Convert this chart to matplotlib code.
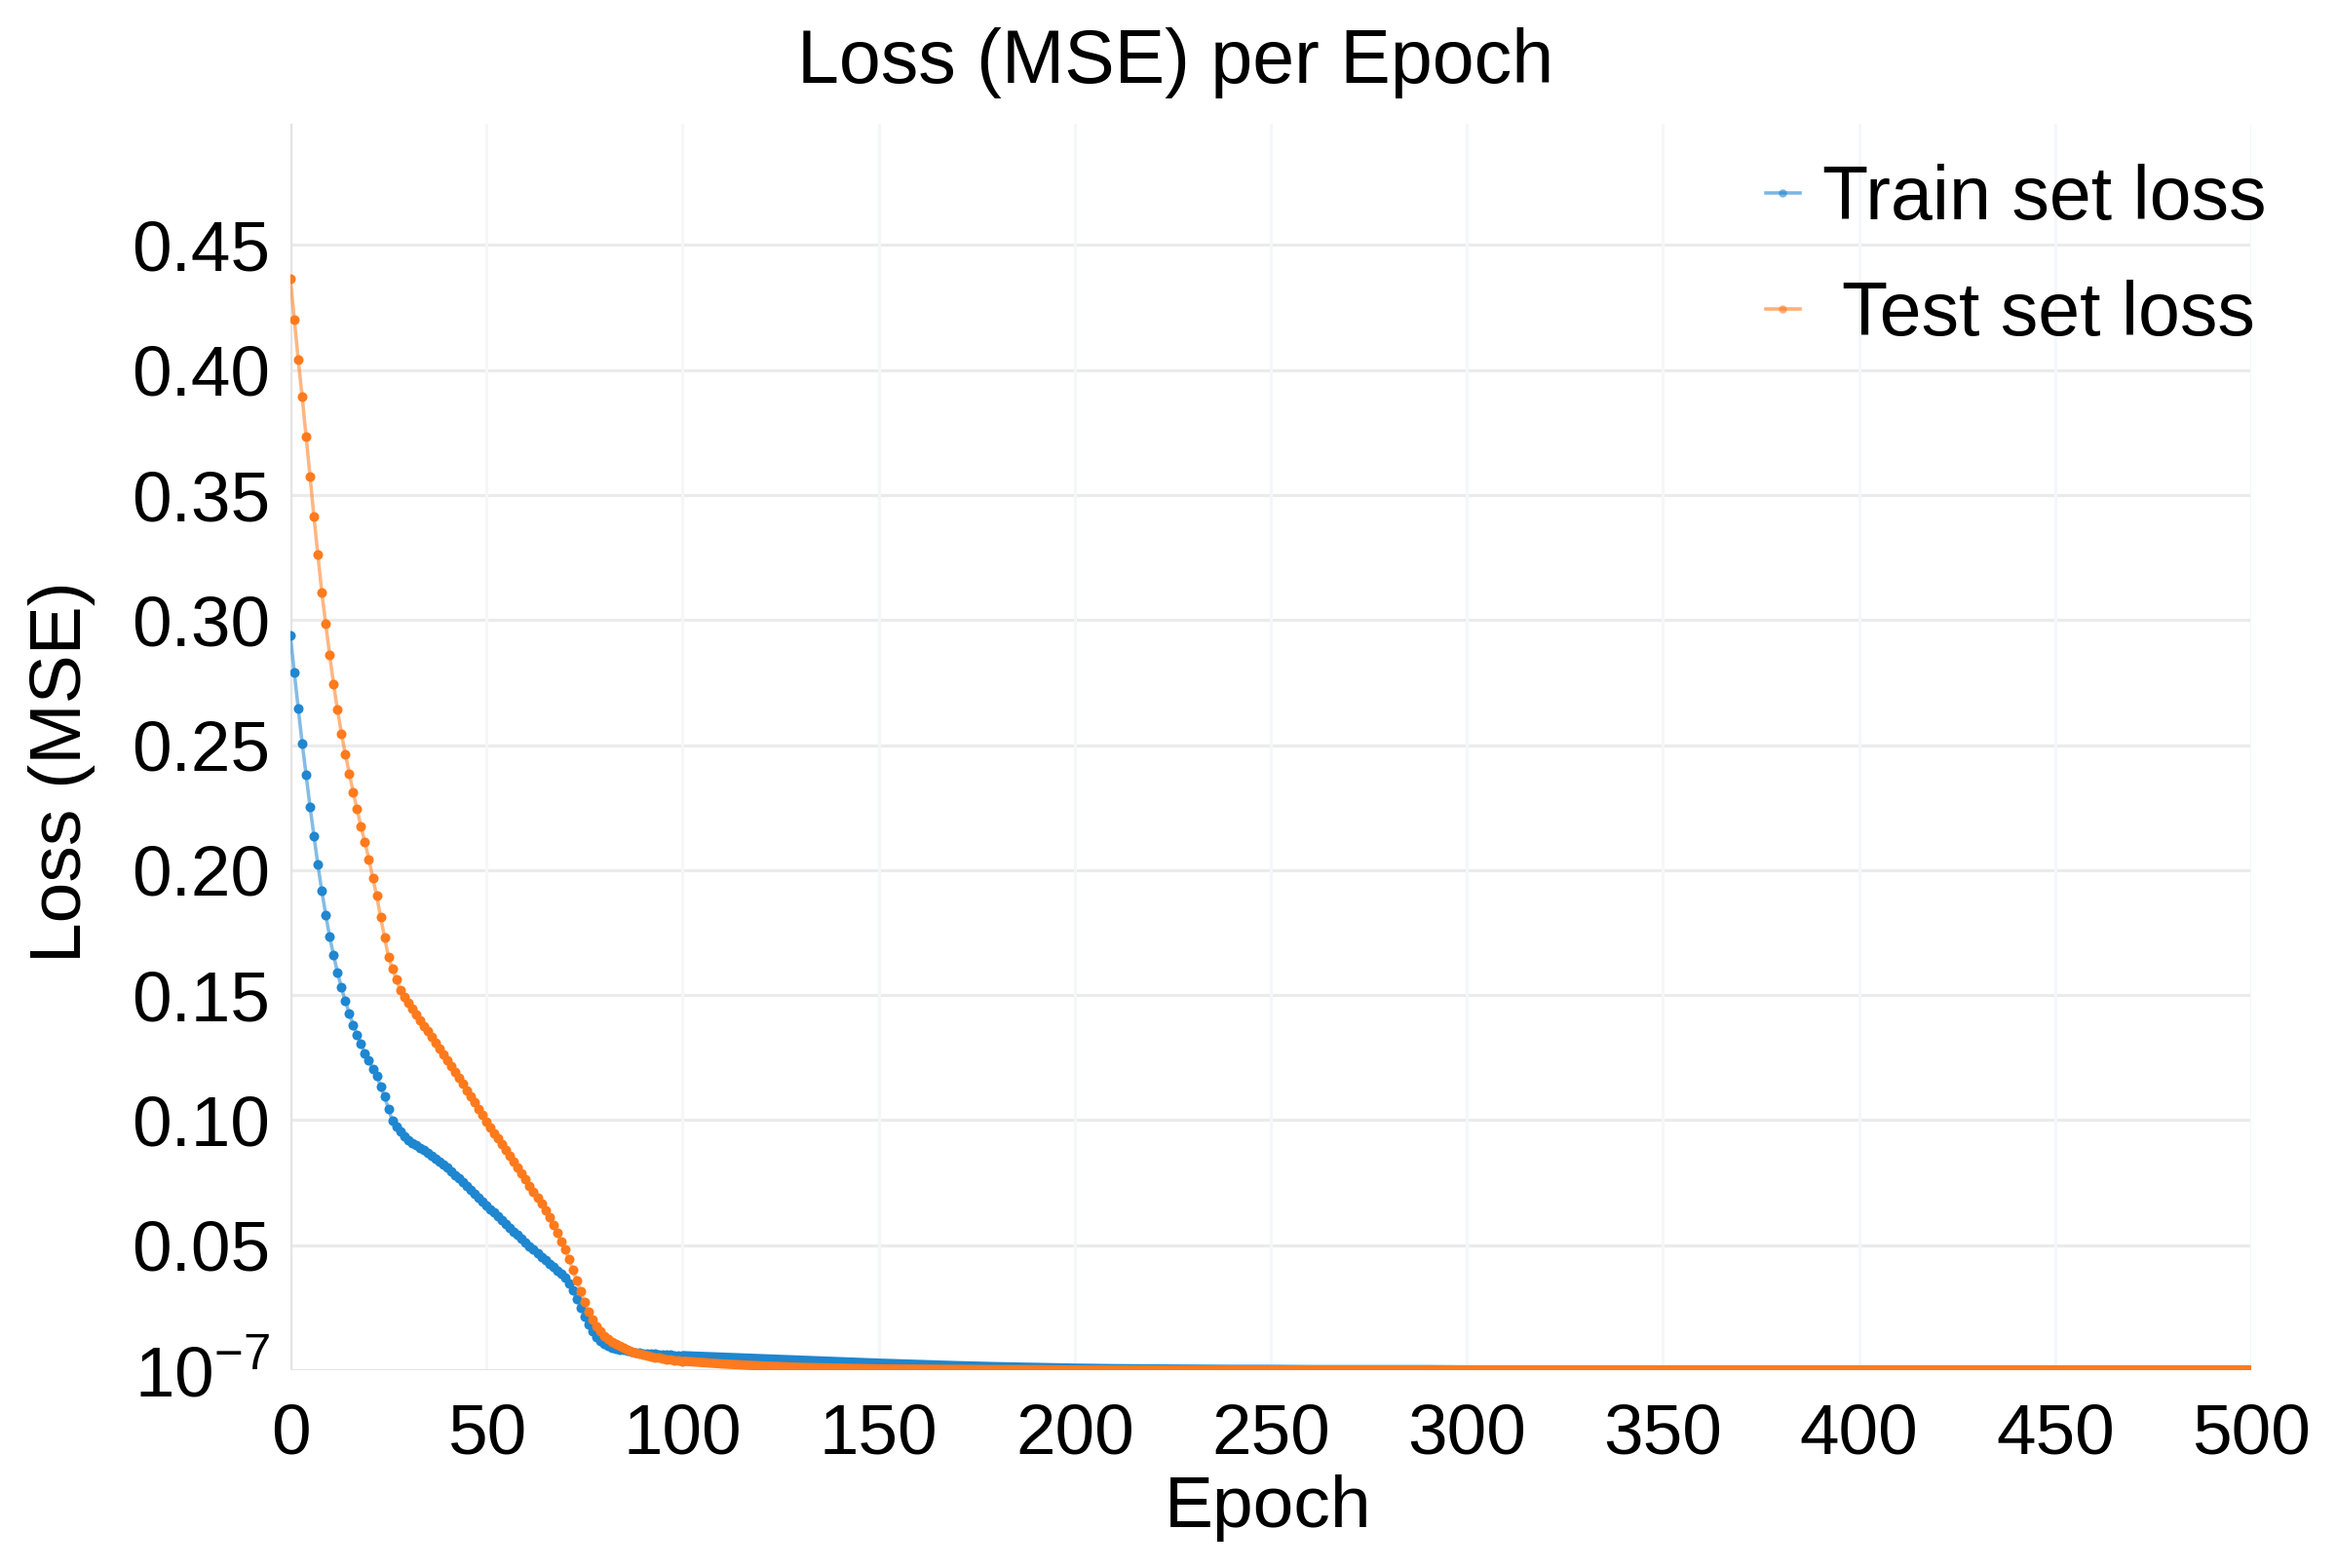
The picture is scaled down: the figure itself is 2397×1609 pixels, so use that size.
import matplotlib
matplotlib.use("Agg")
import matplotlib.pyplot as plt
from matplotlib.lines import Line2D

plt.rcParams["font.family"] = ["Liberation Sans", "DejaVu Sans"]
plt.rcParams["mathtext.fontset"] = "custom"
plt.rcParams["mathtext.rm"] = "Liberation Sans"

# per-epoch readings, epochs 0..100
train_loss = [
    0.2938, 0.2789, 0.2646, 0.2508, 0.2380, 0.2253, 0.2136, 0.2021, 0.1917, 0.1822,
    0.1734, 0.1660, 0.1591, 0.1530, 0.1476, 0.1428, 0.1381, 0.1342, 0.1305, 0.1265,
    0.1238, 0.1206, 0.1179, 0.1134, 0.1095, 0.1045, 0.0997, 0.0975, 0.0955, 0.0937,
    0.0920, 0.0910, 0.0900, 0.0890, 0.0880, 0.0870, 0.0858, 0.0846, 0.0834, 0.0822,
    0.0810, 0.0795, 0.0781, 0.0766, 0.0752, 0.0737, 0.0722, 0.0706, 0.0691, 0.0675,
    0.0660, 0.0645, 0.0630, 0.0615, 0.0600, 0.0585, 0.0570, 0.0555, 0.0540, 0.0525,
    0.0510, 0.0496, 0.0482, 0.0468, 0.0454, 0.0440, 0.0426, 0.0412, 0.0398, 0.0384,
    0.0370, 0.0348, 0.0320, 0.0285, 0.0250, 0.0215, 0.0182, 0.0155, 0.0133, 0.0117,
    0.0105, 0.0097, 0.0091, 0.0087, 0.0083, 0.0080, 0.0077, 0.0074, 0.0072, 0.0070,
    0.0068, 0.0067, 0.0066, 0.0065, 0.0064, 0.0063, 0.0062, 0.0061, 0.0060, 0.0059,
    0.0058,
]
test_loss = [
    0.4364, 0.4201, 0.4040, 0.3893, 0.3735, 0.3575, 0.3413, 0.3262, 0.3110, 0.2984,
    0.2861, 0.2744, 0.2642, 0.2547, 0.2465, 0.2387, 0.2311, 0.2244, 0.2173, 0.2112,
    0.2044, 0.1969, 0.1898, 0.1811, 0.1731, 0.1653, 0.1606, 0.1564, 0.1520, 0.1492,
    0.1468, 0.1445, 0.1422, 0.1399, 0.1377, 0.1355, 0.1332, 0.1309, 0.1286, 0.1263,
    0.1240, 0.1216, 0.1192, 0.1168, 0.1144, 0.1120, 0.1095, 0.1070, 0.1045, 0.1020,
    0.0995, 0.0972, 0.0949, 0.0926, 0.0903, 0.0880, 0.0856, 0.0833, 0.0809, 0.0786,
    0.0762, 0.0738, 0.0714, 0.0689, 0.0665, 0.0640, 0.0612, 0.0580, 0.0550, 0.0515,
    0.0485, 0.0445, 0.0402, 0.0358, 0.0315, 0.0272, 0.0235, 0.0203, 0.0176, 0.0155,
    0.0138, 0.0124, 0.0113, 0.0104, 0.0096, 0.0089, 0.0082, 0.0076, 0.0071, 0.0066,
    0.0062, 0.0058, 0.0055, 0.0052, 0.0049, 0.0046, 0.0044, 0.0042, 0.0040, 0.0038,
    0.0036,
]

# flat tail, read every 10 epochs from 110 to 500
tail_epochs = list(range(110, 501, 10))
train_tail = [
    0.0052, 0.0046, 0.0040, 0.0034, 0.0028, 0.0023, 0.0018, 0.0014, 0.0011, 0.0008,
    0.0006, 0.0005, 0.0004, 0.0003, 0.0003, 0.0002, 0.0002, 0.0002, 0.0002, 0.0001,
    0.0001, 0.0001, 0.0001, 0.0001, 0.0001, 0.0001, 0.0001, 0.0001, 0.0001, 0.0001,
    0.0001, 0.0001, 0.0001, 0.0001, 0.0001, 0.0001, 0.0001, 0.0001, 0.0001, 0.0001,
]
test_tail = [
    0.0025, 0.0017, 0.0011, 0.0008, 0.0005, 0.0004, 0.0003, 0.0002, 0.0002, 0.0001,
    0.0001, 0.0001, 0.0001, 0.0001, 0.0001, 0.0001, 0.0001, 0.0001, 0.0001, 0.0001,
    0.0001, 0.0001, 0.0001, 0.0001, 0.0001, 0.0001, 0.0001, 0.0001, 0.0001, 0.0001,
    0.0001, 0.0001, 0.0001, 0.0001, 0.0001, 0.0001, 0.0001, 0.0001, 0.0001, 0.0001,
]

y_ticks = [0, 0.05, 0.10, 0.15, 0.20, 0.25, 0.30, 0.35, 0.40, 0.45]
y_labels = ["$10^{-7}$", "0.05", "0.10", "0.15", "0.20", "0.25", "0.30", "0.35", "0.40", "0.45"]
x_ticks = [0, 50, 100, 150, 200, 250, 300, 350, 400, 450, 500]

BLUE = "#1f86d0"
ORANGE = "#ff7a1c"
FS = 36

fig = plt.figure(figsize=(2397 / 150, 1609 / 150), dpi=150)
ax = fig.add_axes([298 / 2397, 1 - 1406 / 1609, (2310 - 298) / 2397, (1406 - 127) / 1609])

head_epochs = list(range(len(train_loss)))
for vals, tail, color in [(train_loss, train_tail, BLUE), (test_loss, test_tail, ORANGE)]:
    ax.plot(head_epochs + tail_epochs, vals + tail, color=color, lw=1.7, alpha=0.55,
            solid_capstyle="round", zorder=3)
    ax.plot(head_epochs, vals, ls="none", marker="o", ms=4.8, mec="none", color=color, zorder=3)
    # markers overlap into a solid band in the flat part
    ax.plot([head_epochs[-1]] + tail_epochs, [vals[-1]] + tail, color=color, lw=4.6,
            solid_capstyle="butt", zorder=3)

ax.set_xlim(0, 500)
ax.set_ylim(0, 0.4985)
ax.set_yticks(y_ticks)
ax.set_yticklabels(y_labels)
ax.set_xticks(x_ticks)
ax.tick_params(length=0, labelsize=35, pad=10)
ax.tick_params(axis="x", pad=16)
for s in ax.spines.values():
    s.set_visible(False)

for y in y_ticks[1:]:
    ax.axhline(y, color="#ebebeb", lw=1.5, zorder=1)
for x in x_ticks[1:]:
    ax.axvline(x, color="#f4f7fa", lw=1.5, zorder=1)
ax.axhline(0, color="#e3e3e3", lw=1.6, zorder=2)
ax.axvline(0, color="#e3e3e3", lw=1.6, zorder=2)

fig.text(0.503, 0.960, "Loss (MSE) per Epoch", ha="center", va="center", fontsize=37)
fig.text(1301 / 2397, 1 - 1548 / 1609, "Epoch", ha="center", va="center", fontsize=FS)
fig.text(64 / 2397, 1 - 792 / 1609, "Loss (MSE)", ha="center", va="center",
         rotation=90, fontsize=FS)

handles = [
    Line2D([], [], color=BLUE, lw=1.7, alpha=0.6, marker="o", ms=4, mec="none"),
    Line2D([], [], color=ORANGE, lw=1.7, alpha=0.6, marker="o", ms=4, mec="none"),
]
fig.legend(handles, ["Train set loss", " Test set loss"], loc="upper left",
           bbox_to_anchor=(1812 / 2397, 1 - 168 / 1609), frameon=False, fontsize=37,
           handlelength=0.45, handletextpad=0.3, labelspacing=0.6, borderpad=0,
           borderaxespad=0)

fig.savefig("out.png", dpi=150)
